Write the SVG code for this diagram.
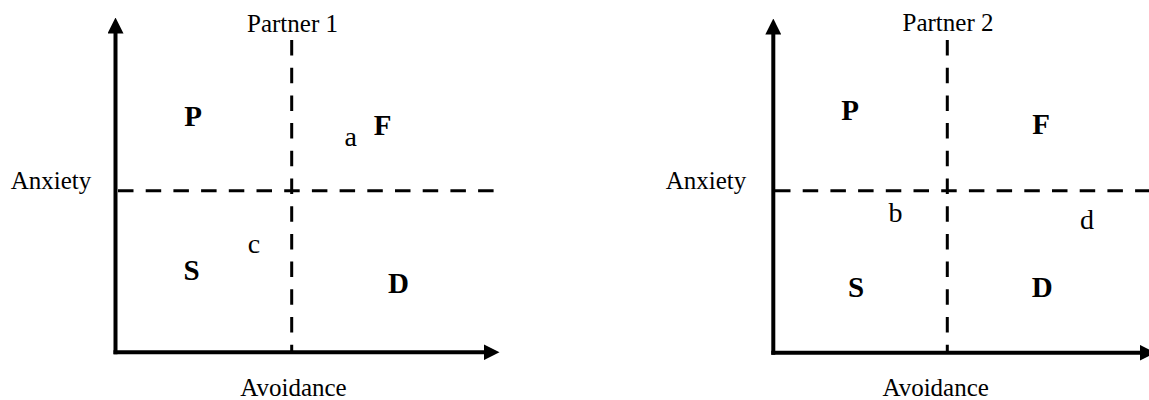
<svg xmlns="http://www.w3.org/2000/svg" width="1149" height="400" viewBox="0 0 1149 400">
  <style>
    .axis { stroke: #000; stroke-width: 4; fill: none; }
    .axis-v { marker-end: url(#arrow); }
    .axis-h { marker-end: url(#arrow); }
    .split { stroke: #000; stroke-width: 3; fill: none; stroke-dasharray: 15.5 12.2; }
    .label { font-family: "Liberation Serif", "Times New Roman", serif; font-size: 25px; fill: #000; text-anchor: middle; }
    .quad { font-family: "Liberation Serif", "Times New Roman", serif; font-size: 29px; font-weight: bold; fill: #000; text-anchor: middle; }
    .point { font-family: "Liberation Serif", "Times New Roman", serif; font-size: 28px; fill: #000; text-anchor: middle; }
  </style>
  <defs>
    <marker id="arrow" viewBox="0 0 16 16" refX="0.5" refY="8" markerWidth="16" markerHeight="16" markerUnits="userSpaceOnUse" orient="auto">
      <path d="M0,0 L16,8 L0,16 z" fill="#000"/>
    </marker>
  </defs>

  <rect x="0" y="0" width="1149" height="400" fill="#fff"/>

  <!-- Partner 1 -->
  <g id="panel-partner1">
    <g id="axes-partner1">
      <line class="axis axis-v" x1="115.5" y1="354.3" x2="115.5" y2="33"/>
      <line class="axis axis-h" x1="113.5" y1="352.3" x2="484" y2="352.3"/>
      <line class="split" x1="291.7" y1="40" x2="291.7" y2="352"/>
      <line class="split" x1="118" y1="190.7" x2="497" y2="190.7"/>
    </g>
    <text class="label" x="292.5" y="32">Partner 1</text>
    <text class="label" x="51" y="188.5">Anxiety</text>
    <text class="label" x="293.5" y="396">Avoidance</text>
    <g id="quadrants-partner1">
      <text class="quad" x="193" y="126">P</text>
      <text class="quad" x="382.5" y="135">F</text>
      <text class="quad" x="191.5" y="280">S</text>
      <text class="quad" x="398.5" y="293">D</text>
    </g>
    <g id="points-partner1">
      <text class="point" x="350.8" y="146">a</text>
      <text class="point" x="254" y="253">c</text>
    </g>
  </g>

  <!-- Partner 2 -->
  <g id="panel-partner2">
    <g id="axes-partner2">
      <line class="axis axis-v" x1="773.3" y1="354.7" x2="773.3" y2="34"/>
      <line class="axis axis-h" x1="771.3" y1="352.7" x2="1140" y2="352.7"/>
      <line class="split" x1="947.3" y1="40" x2="947.3" y2="352"/>
      <line class="split" x1="775" y1="190.7" x2="1149" y2="190.7"/>
    </g>
    <text class="label" x="948" y="31">Partner 2</text>
    <text class="label" x="706" y="188.5">Anxiety</text>
    <text class="label" x="935.7" y="396">Avoidance</text>
    <g id="quadrants-partner2">
      <text class="quad" x="850" y="119.5">P</text>
      <text class="quad" x="1041" y="133.5">F</text>
      <text class="quad" x="856" y="296.7">S</text>
      <text class="quad" x="1042.3" y="296.7">D</text>
    </g>
    <g id="points-partner2">
      <text class="point" x="895.5" y="221.7">b</text>
      <text class="point" x="1087" y="229.3">d</text>
    </g>
  </g>
</svg>
